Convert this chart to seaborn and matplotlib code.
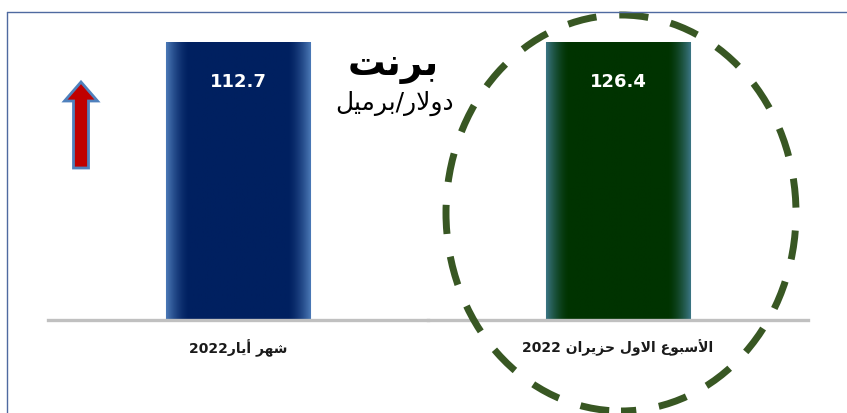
import re
import numpy as np
import pandas as pd
import seaborn as sns
import matplotlib
matplotlib.use("Agg")
import matplotlib.pyplot as plt
from matplotlib.patches import FancyArrow, Ellipse
from matplotlib.lines import Line2D
from matplotlib.colors import to_rgb

# ---------------- data ----------------
categories = ["شهر أيار2022", "الأسبوع الاول حزيران 2022"]
values = [112.7, 126.4]
value_labels = ["112.7", "126.4"]
title = "برنت"
unit = "دولار/برميل"
bar_colors = ["#002060", "#003300"]
bar_edge_glow = ["#4a78b6", "#3a7482"]

# ---------------- minimal Arabic shaping + RTL ordering ----------------
FORMS = {
    'ا': ('\uFE8D', '\uFE8E', None, None),
    'أ': ('\uFE83', '\uFE84', None, None),
    'ب': ('\uFE8F', '\uFE90', '\uFE91', '\uFE92'),
    'ت': ('\uFE95', '\uFE96', '\uFE97', '\uFE98'),
    'ح': ('\uFEA1', '\uFEA2', '\uFEA3', '\uFEA4'),
    'د': ('\uFEA9', '\uFEAA', None, None),
    'ر': ('\uFEAD', '\uFEAE', None, None),
    'ز': ('\uFEAF', '\uFEB0', None, None),
    'س': ('\uFEB1', '\uFEB2', '\uFEB3', '\uFEB4'),
    'ش': ('\uFEB5', '\uFEB6', '\uFEB7', '\uFEB8'),
    'ع': ('\uFEC9', '\uFECA', '\uFECB', '\uFECC'),
    'ل': ('\uFEDD', '\uFEDE', '\uFEDF', '\uFEE0'),
    'م': ('\uFEE1', '\uFEE2', '\uFEE3', '\uFEE4'),
    'ن': ('\uFEE5', '\uFEE6', '\uFEE7', '\uFEE8'),
    'ه': ('\uFEE9', '\uFEEA', '\uFEEB', '\uFEEC'),
    'و': ('\uFEED', '\uFEEE', None, None),
    'ي': ('\uFEF1', '\uFEF2', '\uFEF3', '\uFEF4'),
}
LAM_ALEF = {'ا': ('\uFEFB', '\uFEFC'), 'أ': ('\uFEF7', '\uFEF8')}


def shape(s):
    units = []
    i = 0
    while i < len(s):
        c = s[i]
        if c == 'ل' and i + 1 < len(s) and s[i + 1] in LAM_ALEF:
            la = LAM_ALEF[s[i + 1]]
            units.append((la[0], la[1], None, None))
            i += 2
        else:
            units.append(FORMS.get(c, c))
            i += 1
    out = []
    for k, f in enumerate(units):
        if isinstance(f, str):
            out.append(f)
            continue
        prev = units[k - 1] if k > 0 else None
        nxt = units[k + 1] if k + 1 < len(units) else None
        jp = isinstance(prev, tuple) and prev[2] is not None
        jn = f[2] is not None and isinstance(nxt, tuple)
        if jp and jn:
            out.append(f[3])
        elif jp:
            out.append(f[1])
        elif jn:
            out.append(f[2])
        else:
            out.append(f[0])
    return ''.join(out)


def visual(s):
    sh = shape(s)
    tokens = re.findall(r'[0-9.]+|[^0-9.]+', sh)
    return ''.join(t if t[0].isdigit() else t[::-1] for t in reversed(tokens))


# ---------------- figure ----------------
W, H = 847, 413
sns.set_style("white")
plt.rcParams['font.family'] = ['DejaVu Sans']
fig = plt.figure(figsize=(W / 100, H / 100), dpi=100)
fig.patch.set_facecolor("white")

ax_left, ax_w = 48, 380
base_y, top_y = 320, 42
axes = []
for i in range(2):
    ax = fig.add_axes([(ax_left + i * ax_w) / W, (H - base_y) / H,
                       ax_w / W, (base_y - top_y) / H])
    df = pd.DataFrame({"cat": [categories[i]], "val": [values[i]]})
    sns.barplot(data=df, x="cat", y="val", ax=ax, color=bar_colors[i],
                saturation=1, width=0.38, edgecolor="#8fb0d8", linewidth=0.8)
    ax.set_ylim(0, values[i])
    ax.set_xlim(-0.5, 0.5)
    ax.set_facecolor("none")
    for s in ["top", "left", "right"]:
        ax.spines[s].set_visible(False)
    ax.spines["bottom"].set_color("#c0c0c0")
    ax.spines["bottom"].set_linewidth(2.4)
    ax.set_yticks([])
    ax.set_ylabel("")
    ax.set_xlabel("")
    ax.set_xticks([0])
    ax.set_xticklabels([visual(categories[i])], fontsize=10, fontweight="bold",
                       color="#1a1a1a")
    ax.tick_params(axis="x", length=0, pad=14)

    # horizontal glow gradient on bar edges
    patch = ax.patches[0]
    x0, y0 = patch.get_x(), patch.get_y()
    pw, ph = patch.get_width(), patch.get_height()
    n = 200
    t = np.linspace(0, 1, n)
    d = np.minimum(t, 1 - t)
    mix = np.clip(1 - d / 0.16, 0, 1) ** 1.6
    c_in = np.array(to_rgb(bar_colors[i]))
    c_out = np.array(to_rgb(bar_edge_glow[i]))
    img = (c_in[None, :] * (1 - mix[:, None]) + c_out[None, :] * mix[:, None])[None, :, :]
    im = ax.imshow(img, extent=[x0, x0 + pw, y0, y0 + ph], aspect="auto",
                   zorder=patch.get_zorder() + 0.1, interpolation="bilinear")
    im.set_clip_path(patch)

    ax.annotate(value_labels[i], xy=(x0 + pw / 2, y0 + ph), xytext=(0, -29),
                textcoords="offset points", ha="center", va="center",
                color="white", fontsize=13, fontweight="bold", zorder=5)
    axes.append(ax)

# title / unit
fig.text(393 / W, 1 - 66 / H, visual(title), ha="center", va="center",
         fontsize=27, fontweight="bold", color="black")
fig.text(394 / W, 1 - 103 / H, visual(unit), ha="center", va="center",
         fontsize=18, color="black")

# red up arrow
arrow = FancyArrow(0.81, (H - 168) / 100, 0, 0.86, width=0.15, head_width=0.33,
                   head_length=0.19, length_includes_head=True,
                   facecolor="#c00000", edgecolor="#4f81bd", linewidth=2,
                   transform=fig.dpi_scale_trans)
fig.add_artist(arrow)

# dashed highlight ellipse
ell = Ellipse((6.21, (H - 213) / 100), 3.50, 3.96, fill=False,
              edgecolor="#385723", linewidth=5, linestyle=(2.0, (4.2, 3.3)),
              transform=fig.dpi_scale_trans)
fig.add_artist(ell)

# frame lines (partial border)
fy = 1 - 12 / H
fx = 7 / W
fig.add_artist(Line2D([fx, 1], [fy, fy], transform=fig.transFigure,
                      color="#4f6aa0", linewidth=1))
fig.add_artist(Line2D([fx, fx], [0, fy], transform=fig.transFigure,
                      color="#4f6aa0", linewidth=1))

fig.savefig("out.png", dpi=100)
